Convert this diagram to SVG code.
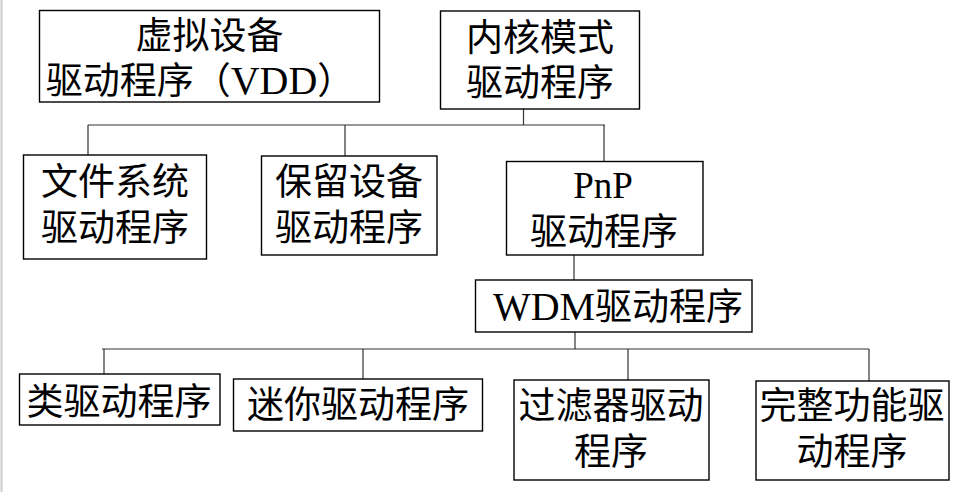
<svg xmlns="http://www.w3.org/2000/svg" width="964" height="492" viewBox="0 0 964 492">
<style>
.box{fill:#fff;stroke:#000;stroke-width:1.4}
.t{font-family:"Liberation Serif","Noto Sans CJK SC",serif;font-size:37px;fill:#000;text-anchor:middle}
.c{fill:none;stroke:#333;stroke-width:1.2}
</style>
<rect width="964" height="492" fill="#fff"/>
<line x1="1.5" y1="0" x2="1.5" y2="492" stroke="#ccc" stroke-width="2"/>
<g id="connectors">
<path class="c" d="M523.5 109V125M88 125H605M88 125V155M345 125V156M604 125V161"/>
<path class="c" d="M574 255V280"/>
<path class="c" d="M575 332V349M102 349H869M104 349V374M363 349V379M628 349V380M869 349V381"/>
</g>
<g id="vdd"><rect class="box" x="39.5" y="10.5" width="340" height="91.5"/><text class="t" x="209.5" y="49">虚拟设备</text><text class="t" x="200" y="94">驱动程序（<tspan font-size="40">VDD</tspan>）</text></g>
<g id="kernel"><rect class="box" x="440.5" y="11" width="199" height="98"/><text class="t" x="540" y="51">内核模式</text><text class="t" x="540" y="96">驱动程序</text></g>
<g id="fs"><rect class="box" x="23.5" y="155" width="183" height="104"/><text class="t" x="115" y="195">文件系统</text><text class="t" x="115" y="241">驱动程序</text></g>
<g id="reserved"><rect class="box" x="261.5" y="156" width="175.5" height="99"/><text class="t" x="349" y="195">保留设备</text><text class="t" x="349" y="241">驱动程序</text></g>
<g id="pnp"><rect class="box" x="506.5" y="161.5" width="196.5" height="93.5"/><text class="t" x="603" y="198">PnP</text><text class="t" x="604" y="245">驱动程序</text></g>
<g id="wdm"><rect class="box" x="475.5" y="280" width="276.5" height="52"/><text class="t" x="618" y="320"><tspan font-size="40">WDM</tspan>驱动程序</text></g>
<g id="class"><rect class="box" x="19.5" y="374" width="200.5" height="51"/><text class="t" x="119" y="415">类驱动程序</text></g>
<g id="mini"><rect class="box" x="233.5" y="379" width="249" height="52"/><text class="t" x="358" y="418">迷你驱动程序</text></g>
<g id="filter"><rect class="box" x="514" y="380" width="195" height="100"/><text class="t" x="611" y="419">过滤器驱动</text><text class="t" x="611" y="465">程序</text></g>
<g id="full"><rect class="box" x="756" y="381" width="193" height="99"/><text class="t" x="852" y="419">完整功能驱</text><text class="t" x="852" y="465">动程序</text></g>
</svg>
